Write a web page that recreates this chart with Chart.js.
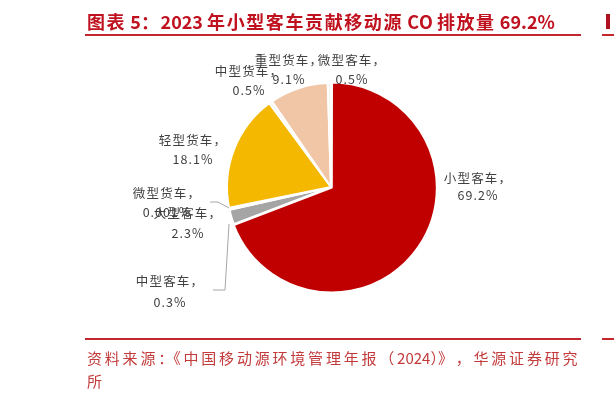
<!DOCTYPE html>
<html>
<head>
<meta charset="utf-8">
<title>2023年小型客车贡献移动源CO排放量69.2%</title>
<script src="https://cdn.jsdelivr.net/npm/chart.js@4.4.1/dist/chart.umd.min.js"></script>
<style>
  html, body { margin: 0; padding: 0; background: #fff; }
  #wrap { position: relative; width: 614px; height: 400px; }
</style>
</head>
<body>
<div id="wrap"><canvas id="pieChart"></canvas></div>
<script>
// data (share of mobile-source CO emissions, 2023)
const categories = ['小型客车', '大型客车', '中型客车', '微型货车', '轻型货车', '中型货车', '重型货车', '微型客车'];
const shares = [69.2, 2.3, 0.3, 0.001, 18.1, 0.5, 9.1, 0.5];
const shareLabels = ['69.2%', '2.3%', '0.3%', '0.001%', '18.1%', '0.5%', '9.1%', '0.5%'];
const sliceColors = ['#C00000', '#A5A5A5', '#F2F2F2', '#F2F2F2', '#F4B800', '#F2F2F2', '#F0C6A6', '#F2F2F2'];

const titleText = '图表 5：2023 年小型客车贡献移动源 CO 排放量 69.2%';
const sourceLines = ['资料来源：《中国移动源环境管理年报（2024）》，华源证券研究', '所'];

// where each label sits (the original places them by hand)
const labelPos = [
  [478, 178, 195],
  [188, 213, 233],
  [170, 281, 302],
  [167, 193, 212],
  [193, 140, 159],
  [249, 71, 90],
  [289, 60, 79],
  [352, 60, 79]
];
// leader lines for the two smallest slices at the left
const leaders = [
  [[210, 202], [218, 202], [229, 208]],
  [[213, 290], [225, 290], [229, 224]]
];

// draw text one char at a time: wide chars get `spacing`, ascii gets `asciiSp`,
// chars listed in `half` only advance half a box (tight punctuation)
function spacedText(ctx, str, x, y, spacing, align, half, asciiSp) {
  half = half || '';
  asciiSp = asciiSp || 0;
  const em = parseFloat(ctx.font.match(/([\d.]+)px/)[1]);
  const steps = [];
  let total = 0;
  for (const ch of str) {
    let adv;
    if (half.includes(ch)) adv = em * 0.5;
    else if (ch.charCodeAt(0) < 128) adv = ctx.measureText(ch).width + asciiSp;
    else adv = ctx.measureText(ch).width + spacing;
    steps.push(adv);
    total += adv;
  }
  let cx = x;
  if (align === 'center') cx = x - total / 2;
  else if (align === 'right') cx = x - total;
  let i = 0;
  ctx.textAlign = 'left';
  for (const ch of str) {
    ctx.fillText(ch, cx, y);
    cx += steps[i++];
  }
}

const pageDecor = {
  id: 'pageDecor',
  afterDraw(chart) {
    const ctx = chart.ctx;
    ctx.save();

    // header
    ctx.fillStyle = '#C0111F';
    ctx.font = 'bold 18px "Noto Sans CJK SC"';
    ctx.textBaseline = 'middle';
    spacedText(ctx, titleText, 87, 22, 1.6, 'left');
    ctx.strokeStyle = '#C4262E';
    ctx.lineWidth = 2;
    ctx.beginPath();
    ctx.moveTo(85, 35); ctx.lineTo(581, 35);
    ctx.moveTo(85, 339); ctx.lineTo(581, 339);
    ctx.moveTo(602, 35); ctx.lineTo(614, 35);
    ctx.moveTo(602, 339); ctx.lineTo(614, 339);
    ctx.stroke();
    // edge of the next panel, cut off in the original
    ctx.fillStyle = '#B01020';
    ctx.fillRect(606, 14, 4, 15);

    // footer
    ctx.fillStyle = '#C23A3A';
    ctx.font = '15px "Noto Sans CJK SC"';
    spacedText(ctx, sourceLines[0], 87, 358, 2.8, 'left', '：）');
    spacedText(ctx, sourceLines[1], 87, 381, 2.8, 'left');

    // leader lines
    ctx.strokeStyle = '#A6A6A6';
    ctx.lineWidth = 1;
    leaders.forEach(pts => {
      ctx.beginPath();
      pts.forEach((p, i) => i ? ctx.lineTo(p[0], p[1]) : ctx.moveTo(p[0], p[1]));
      ctx.stroke();
    });

    // slice labels
    ctx.fillStyle = '#404040';
    ctx.font = '12.5px "Noto Sans CJK SC"';
    categories.forEach((name, i) => {
      const [x, y1, y2] = labelPos[i];
      spacedText(ctx, name + '，', x, y1, 1.2, 'center');
      spacedText(ctx, shareLabels[i], x, y2, 0, 'center', '', 1);
    });
    ctx.restore();
  }
};

const ctx = document.getElementById('pieChart').getContext('2d');
new Chart(ctx, {
  type: 'pie',
  data: {
    labels: categories,
    datasets: [{
      data: shares,
      backgroundColor: sliceColors,
      borderColor: '#ffffff',
      borderWidth: 2,
      offset: [4, 0, 0, 0, 0, 0, 0, 0]
    }]
  },
  options: {
    responsive: true,
    maintainAspectRatio: false,
    animation: false,
    radius: 104,
    layout: { padding: { left: 227, right: 179, top: 83, bottom: 109 } },
    plugins: {
      legend: { display: false },
      tooltip: { enabled: false },
      title: { display: false }
    }
  },
  plugins: [pageDecor]
});
</script>
</body>
</html>
